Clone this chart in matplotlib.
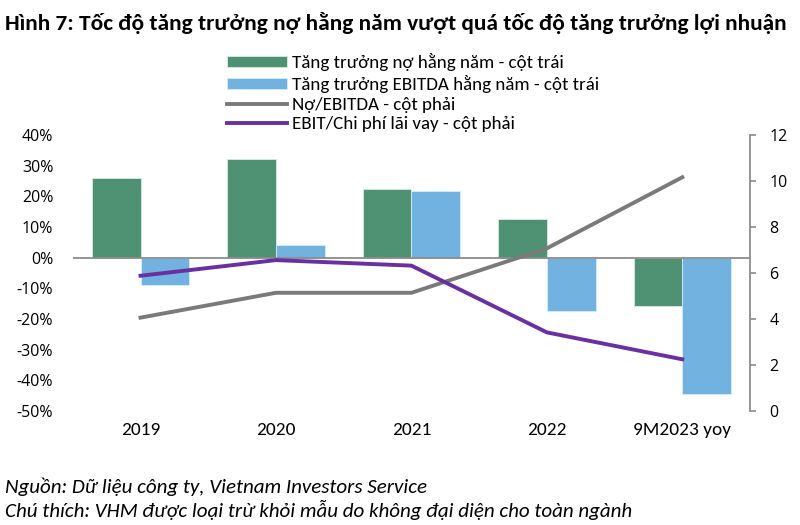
import matplotlib
matplotlib.use('Agg')
import matplotlib.pyplot as plt
from matplotlib import font_manager as fm
import numpy as np

categories = ['2019', '2020', '2021', '2022', '9M2023 yoy']
no_growth = [26.0, 32.2, 22.4, 12.6, -15.7]       # % - cột trái
ebitda_growth = [-8.8, 4.2, 21.8, -17.5, -44.3]   # % - cột trái
no_ebitda = [4.06, 5.14, 5.14, 7.07, 10.16]       # cột phải
ebit_interest = [5.88, 6.56, 6.32, 3.42, 2.25]    # cột phải

# font giống Calibri nếu có
have = set(f.name for f in fm.fontManager.ttflist)
calib = next((f for f in ['Carlito', 'Lato', 'Open Sans'] if f in have), 'DejaVu Sans')
segoe = 'Open Sans' if 'Open Sans' in have else 'DejaVu Sans'

fig = plt.figure(figsize=(8, 5.25), dpi=100)
ax = fig.add_axes([0.091, 0.217, 0.8465, 0.526])
ax2 = ax.twinx()

x = np.arange(len(categories))
w = 0.36
b1 = ax.bar(x - w / 2, no_growth, w, color='#4f9173', edgecolor='#d8eee2', linewidth=0.6,
            label='Tăng trưởng nợ hằng năm - cột trái')
b2 = ax.bar(x + w / 2, ebitda_growth, w, color='#72b2e0', edgecolor='#d6ecfa', linewidth=0.6,
            label='Tăng trưởng EBITDA hằng năm - cột trái')
ax.axhline(0, color='#8c8c8c', lw=1.3, zorder=1)

l1, = ax2.plot(x, no_ebitda, color='#7a7a7a', lw=2.8, label='Nợ/EBITDA - cột phải')
l2, = ax2.plot(x, ebit_interest, color='#6a2fa0', lw=2.8, label='EBIT/Chi phí lãi vay - cột phải')

ax.set_xlim(-0.5, 4.5)
ax.set_ylim(-50, 40)
ax.set_yticks(np.arange(-50, 41, 10))
ax.set_yticklabels([f'{v}%' for v in range(-50, 41, 10)], fontsize=11.5, family=segoe)
ax.set_xticks(x)
ax.set_xticklabels(categories, fontsize=13.5, family=calib)
ax.tick_params(axis='both', length=0, pad=8)
ax.tick_params(axis='y', pad=14)
for s in ax.spines.values():
    s.set_visible(False)

ax2.set_ylim(0, 12)
ax2.set_yticks(np.arange(0, 13, 2))
ax2.set_yticklabels([str(v) for v in range(0, 13, 2)], fontsize=11.5, family=segoe)
ax2.tick_params(axis='y', length=4, color='#8c8c8c', width=1.2, pad=10)
for k, s in ax2.spines.items():
    s.set_visible(k == 'right')
ax2.spines['right'].set_color('#8c8c8c')
ax2.spines['right'].set_linewidth(1.3)

leg = fig.legend(handles=[b1, b2, l1, l2], loc='upper left', bbox_to_anchor=(227 / 800, 1 - 53 / 525),
                 frameon=False, prop={'family': calib, 'size': 13},
                 handlelength=3.3, handleheight=0.6, handletextpad=0.3, labelspacing=0.21,
                 borderaxespad=0, borderpad=0)

title = fig.text(0.006, 1 - 23 / 525, 'Hình 7: Tốc độ tăng trưởng nợ hằng năm vượt quá tốc độ tăng trưởng lợi nhuận',
                 fontsize=16, fontweight='bold', family=calib, va='center')
src1 = fig.text(0.006, 1 - 487 / 525, 'Nguồn: Dữ liệu công ty, Vietnam Investors Service',
                fontsize=14, style='italic', family=calib, va='center')
src2 = fig.text(0.006, 1 - 510 / 525, 'Chú thích: VHM được loại trừ khỏi mẫu do không đại diện cho toàn ngành',
                fontsize=14, style='italic', family=calib, va='center')

# chỉnh cỡ chữ cho vừa độ rộng như hình gốc
r = fig.canvas.get_renderer()
def fit(t, width_px):
    t.set_fontsize(t.get_fontsize() * width_px / t.get_window_extent(r).width)

fit(title, 785)
fit(src1, 423)
fit(src2, 630)
lt = leg.get_texts()[1]
fit(lt, 308)
for t in leg.get_texts():
    t.set_fontsize(lt.get_fontsize())
xl = ax.get_xticklabels()[-1]
fit(xl, 97)
for t in ax.get_xticklabels():
    t.set_fontsize(xl.get_fontsize())

fig.savefig('out.png', dpi=100)
